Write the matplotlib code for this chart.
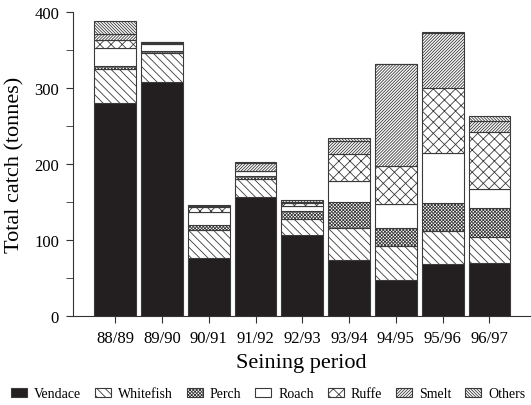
import numpy as np
import matplotlib.pyplot as plt
from matplotlib.patches import Patch

plt.rcParams['font.family'] = ['Liberation Serif', 'DejaVu Serif']
plt.rcParams['hatch.linewidth'] = 0.6

# catch per species and season (tonnes)
periods = ['88/89', '89/90', '90/91', '91/92', '92/93', '93/94', '94/95', '95/96', '96/97']
vendace = [280.5, 308, 76.5, 157, 107, 73.5, 47.5, 68.2, 69]
whitefish = [44.5, 38.5, 36.5, 23, 20.5, 41.8, 44.8, 43, 35]
perch = [4, 3, 6, 4, 10, 34.3, 23.7, 37.7, 37.6]
roach = [24, 8.5, 18, 6.5, 7.5, 28.4, 31, 65, 25.4]
ruffe = [10, 1.5, 6.5, 0.5, 4, 35, 50, 86, 75]
smelt = [9, 1, 1, 10, 1.5, 18, 134.5, 73.5, 15]
others = [16, 1, 1, 1.5, 2, 3, 1, 1, 6]

species = ['Vendace', 'Whitefish', 'Perch', 'Roach', 'Ruffe', 'Smelt', 'Others']
series = [vendace, whitefish, perch, roach, ruffe, smelt, others]
fills = ['#231f20', 'white', 'white', 'white', 'white', 'white', 'white']
hatches = [None, '\\' * 4, 'x' * 10, None, 'xxx', '/' * 11, '\\' * 11]
edge = '#3a3a3a'

fig = plt.figure(figsize=(5.31, 4.06), dpi=100)
ax = fig.add_axes([0.1375, 0.22, 0.861, 0.747])

x = np.arange(len(periods))
bottom = np.zeros(len(periods))
for vals, fc, h in zip(series, fills, hatches):
    ax.bar(x, vals, width=0.89, bottom=bottom, color=fc, edgecolor=edge,
           hatch=h, linewidth=0.8)
    bottom += np.array(vals)

ax.set_xlim(-0.9, 8.87)
ax.set_ylim(0, 400)
ax.set_xticks(x)
ax.set_xticklabels(periods)
ax.set_yticks([0, 100, 200, 300, 400])
ax.set_yticks([50, 150, 250, 350], minor=True)
ax.tick_params(axis='both', which='both', length=5, labelsize=12,
               direction='out', pad=5, color='#333333')
for s in ['top', 'right']:
    ax.spines[s].set_visible(False)
for s in ['left', 'bottom']:
    ax.spines[s].set_color('#333333')
    ax.spines[s].set_linewidth(0.8)

ax.set_ylabel('Total catch (tonnes)', fontsize=16, labelpad=7)
ax.set_xlabel('Seining period', fontsize=16, labelpad=5)

handles = [Patch(facecolor=fc, edgecolor=edge, hatch=h, linewidth=0.8)
           for fc, h in zip(fills, hatches)]
fig.legend(handles, species, loc='center', bbox_to_anchor=(0.505, 11 / 406),
           ncol=7, frameon=False, fontsize=10, handlelength=1.15,
           handleheight=0.6, handletextpad=0.5, columnspacing=1.0,
           borderpad=0, borderaxespad=0)

fig.savefig('out.png', dpi=100)
